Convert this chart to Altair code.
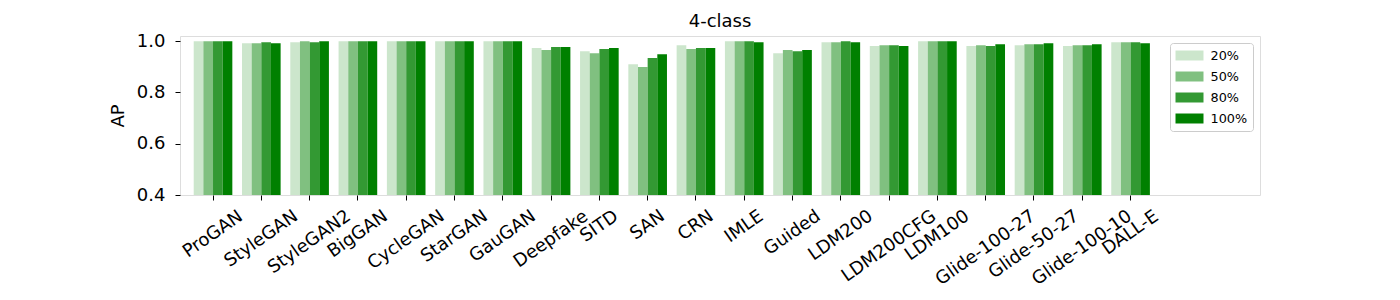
import altair as alt
import pandas as pd

categories = ["ProGAN", "StyleGAN", "StyleGAN2", "BigGAN", "CycleGAN", "StarGAN",
              "GauGAN", "Deepfake", "SITD", "SAN", "CRN", "IMLE", "Guided",
              "LDM200", "LDM200CFG", "LDM100", "Glide-100-27", "Glide-50-27",
              "Glide-100-10", "DALL-E"]
series = ["20%", "50%", "80%", "100%"]
ap_20 = [1.0, 0.992, 0.996, 1.0, 1.0, 1.0, 1.0, 0.973, 0.961, 0.910, 0.984, 1.0,
         0.953, 0.996, 0.981, 1.0, 0.981, 0.984, 0.981, 0.996]
ap_50 = [1.0, 0.992, 1.0, 1.0, 1.0, 1.0, 1.0, 0.965, 0.953, 0.899, 0.969, 1.0,
         0.965, 0.996, 0.984, 1.0, 0.984, 0.988, 0.984, 0.996]
ap_80 = [1.0, 0.996, 0.996, 1.0, 1.0, 1.0, 1.0, 0.977, 0.969, 0.934, 0.973, 1.0,
         0.961, 1.0, 0.984, 1.0, 0.981, 0.988, 0.984, 0.996]
ap_100 = [1.0, 0.992, 1.0, 1.0, 1.0, 1.0, 1.0, 0.977, 0.973, 0.949, 0.973, 0.996,
          0.965, 0.996, 0.981, 1.0, 0.988, 0.992, 0.988, 0.992]
colors = ["#cce6cc", "#80c080", "#339933", "#008000"]

# DejaVu Sans advance widths (units per em = 2048), used to centre rotated labels
GLYPH_W = {"P": 1235, "r": 842, "o": 1253, "G": 1587, "A": 1401, "N": 1532,
           "S": 1300, "t": 803, "y": 1212, "l": 569, "e": 1260, "B": 1405,
           "i": 569, "g": 1300, "C": 1430, "c": 1126, "a": 1255, "D": 1577,
           "p": 1300, "f": 721, "k": 1186, "I": 604, "T": 1251, "R": 1423,
           "M": 1767, "L": 1141, "E": 1294, "d": 1300, "u": 1298, "F": 1176,
           "-": 739}

rows = []
for s, vals in zip(series, [ap_20, ap_50, ap_80, ap_100]):
    for c, v in zip(categories, vals):
        rows.append({"cat": c, "series": s, "ap": v})
df = pd.DataFrame(rows)
lab = pd.DataFrame({
    "cat": categories,
    "em": [sum(GLYPH_W.get(ch, 1303) for ch in c) / 2048 for c in categories],
})

FONT = "DejaVu Sans"
FS = 18
W, H = 1080, 159
xscale = alt.Scale(domain=categories, range=[13.7, 969.9], paddingInner=0.2, paddingOuter=0)

bars = alt.Chart(df).mark_bar(clip=True).encode(
    x=alt.X("cat:N", scale=xscale, sort=categories,
            axis=alt.Axis(title=None, labels=False, ticks=True, tickSize=5,
                          tickColor="black", domain=False, grid=False)),
    xOffset=alt.XOffset("series:N", sort=series,
                        scale=alt.Scale(domain=series, paddingInner=0, paddingOuter=0)),
    y=alt.Y("ap:Q", scale=alt.Scale(domain=[0.4, 1.02], zero=False, nice=False),
            axis=alt.Axis(title="AP", values=[0.4, 0.6, 0.8, 1.0], format=".1f",
                          labelFontSize=FS, titleFontSize=FS, titleFontWeight="normal",
                          tickSize=5, tickColor="black", labelColor="black",
                          titleColor="black", labelPadding=10, titlePadding=9,
                          grid=False, domain=False, labelFont=FONT, titleFont=FONT)),
    color=alt.Color("series:N", sort=series,
                    scale=alt.Scale(domain=series, range=colors),
                    legend=alt.Legend(title=None, orient="top-right", offset=7,
                                      fillColor="white", strokeColor="#cccccc",
                                      cornerRadius=3, padding=5.5,
                                      symbolType="M-2,-0.714H2V0.714H-2Z",
                                      symbolSize=196, symbolOffset=7,
                                      symbolStrokeWidth=0, symbolOpacity=1,
                                      labelFontSize=12.8, labelFont=FONT,
                                      labelOffset=14, labelColor="black",
                                      rowPadding=7)),
)

labels = alt.Chart(lab).transform_calculate(
    off=f"11 + (datum.em * {FS} * 0.574 + {FS} * 1.17 * 0.819) / 2"
).mark_text(angle=325, align="center", baseline="middle", fontSize=FS,
            font=FONT, color="black").encode(
    x=alt.X("cat:N", sort=categories, scale=xscale),
    y=alt.value(H),
    yOffset=alt.YOffset("off:Q", scale=None),
    text="cat:N",
)

chart = alt.layer(bars, labels).properties(
    width=W, height=H,
    autosize=alt.AutoSizeParams(type="none"),
    padding={"left": 172, "top": 28, "right": 100, "bottom": 97},
    title=alt.Title("4-class", fontSize=FS, fontWeight="normal", font=FONT,
                    offset=1, color="black", anchor="middle"),
).configure_view(stroke="black", strokeWidth=1).configure(font=FONT)

chart.save("out.html", embed_options={"renderer": "svg", "actions": False})
